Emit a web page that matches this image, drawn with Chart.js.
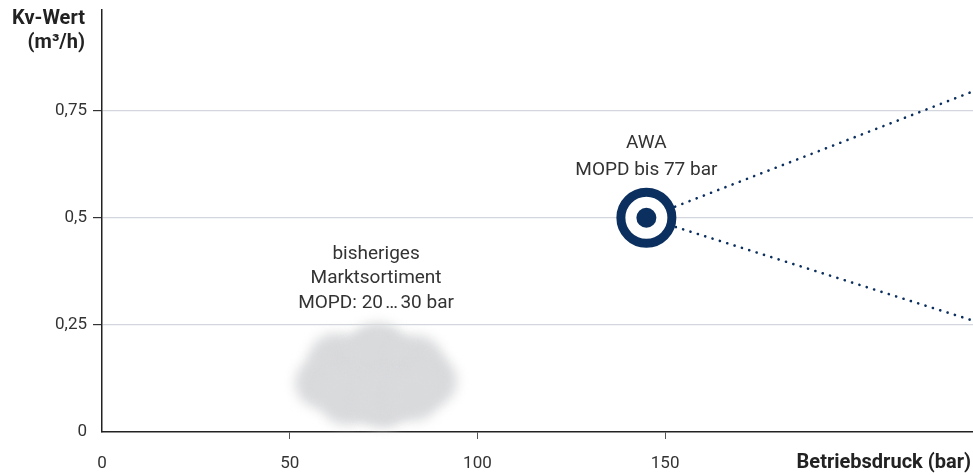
<!DOCTYPE html>
<html>
<head>
<meta charset="utf-8">
<script src="https://cdn.jsdelivr.net/npm/chart.js@4/dist/chart.umd.min.js"></script>
<style>
  html, body { margin: 0; padding: 0; background: #fff; }
  #wrap { width: 973px; height: 475px; }
</style>
</head>
<body>
<div id="wrap"><canvas id="kvChart"></canvas></div>
<script>
// Chart data
const xTicks = [0, 50, 100, 150];
const yTicks = [0, 0.25, 0.5, 0.75];
const awaPoint = [{ x: 145, y: 0.5 }];
const upperLine = [{ x: 145, y: 0.5 }, { x: 232, y: 0.795 }];
const lowerLine = [{ x: 145, y: 0.5 }, { x: 232, y: 0.26 }];
const cloudCenter = { x: 73, y: 0.133 };
const cloudLabel = ['bisheriges', 'Marktsortiment', 'MOPD: 20\u202F…\u202F30 bar'];
const cloudLabelPos = { x: 73, y: 0.415 };
const awaLabel = ['AWA', 'MOPD bis 77 bar'];
const awaLabelPos = { x: 145, y: 0.673 };

const navy = '#0b2f5e';
const textColor = '#333333';
const fontFamily = 'Roboto, "Liberation Sans", sans-serif';

// Cloud + annotations, drawn through the scales
const decoPlugin = {
  id: 'deco',
  beforeDatasetsDraw(chart) {
    const { ctx, scales } = chart;
    const cx = scales.x.getPixelForValue(cloudCenter.x);
    const cy = scales.y.getPixelForValue(cloudCenter.y);
    // lobes of the cloud: [dx, dy, r]
    const blobs = [
      [0, 2, 46], [-40, -14, 28], [2, -20, 32], [40, -12, 28],
      [56, 6, 25], [-56, 8, 25], [-30, 22, 28], [8, 24, 28], [38, 20, 26]
    ];
    ctx.save();
    ctx.filter = 'blur(6px)';
    ctx.fillStyle = '#d9dadc';
    blobs.forEach(([dx, dy, r]) => {
      ctx.beginPath();
      ctx.arc(cx + dx, cy + dy, r, 0, Math.PI * 2);
      ctx.fill();
    });
    ctx.restore();
  },
  afterDraw(chart) {
    const { ctx, scales, chartArea } = chart;
    ctx.save();
    ctx.fillStyle = textColor;
    ctx.textBaseline = 'middle';
    ctx.textAlign = 'center';
    ctx.font = '19px ' + fontFamily;
    const lx = scales.x.getPixelForValue(cloudLabelPos.x);
    const ly = scales.y.getPixelForValue(cloudLabelPos.y);
    cloudLabel.forEach((t, i) => ctx.fillText(t, lx, ly + i * 24.5));
    const ax = scales.x.getPixelForValue(awaLabelPos.x);
    const ay = scales.y.getPixelForValue(awaLabelPos.y);
    awaLabel.forEach((t, i) => ctx.fillText(t, ax, ay + i * 27));

    // axis titles
    ctx.fillStyle = '#222';
    ctx.font = 'bold 20px ' + fontFamily;
    ctx.textAlign = 'right';
    ctx.fillText('Kv-Wert', chartArea.left - 17, 19);
    ctx.fillText('(m³/h)', chartArea.left - 17, 43);
    ctx.fillText('Betriebsdruck (bar)', chartArea.right - 2, 463);
    ctx.restore();
  }
};

function noPad(s) {
  s.paddingTop = 0; s.paddingBottom = 0; s.paddingLeft = 0; s.paddingRight = 0;
}

new Chart(document.getElementById('kvChart'), {
  type: 'scatter',
  data: {
    datasets: [
      {
        data: upperLine, showLine: true, pointRadius: 0, order: 3,
        borderColor: navy, borderWidth: 2.6, borderDash: [0.1, 7.6], borderCapStyle: 'round'
      },
      {
        data: lowerLine, showLine: true, pointRadius: 0, order: 3,
        borderColor: navy, borderWidth: 2.6, borderDash: [0.1, 7.6], borderCapStyle: 'round'
      },
      {
        data: awaPoint, pointRadius: 25.5, pointHoverRadius: 25.5, order: 2,
        backgroundColor: '#ffffff', borderColor: navy, borderWidth: 9, pointHoverBorderWidth: 9
      },
      {
        data: awaPoint, pointRadius: 10, pointHoverRadius: 10, order: 1,
        backgroundColor: navy, borderColor: navy, borderWidth: 0
      }
    ]
  },
  options: {
    responsive: true,
    maintainAspectRatio: false,
    animation: false,
    events: [],
    layout: { autoPadding: false, padding: { top: 10, right: 0, left: 0, bottom: 0 } },
    plugins: { legend: { display: false }, tooltip: { enabled: false } },
    scales: {
      x: {
        type: 'linear', min: 0, max: 232,
        afterFit(s) { s.height = 43; noPad(s); },
        border: { color: '#222', width: 1.5 },
        grid: {
          drawOnChartArea: false, tickLength: 7,
          tickColor: ctx => ctx.tick && ctx.tick.value > 0 && ctx.tick.value <= 150 ? '#555' : 'rgba(0,0,0,0)'
        },
        ticks: {
          stepSize: 50, includeBounds: false, padding: 15,
          color: textColor, font: { family: fontFamily, size: 17 },
          callback: v => xTicks.includes(v) ? String(v) : ''
        }
      },
      y: {
        type: 'linear', min: 0, max: 0.985,
        afterFit(s) { s.width = 102; noPad(s); },
        border: { color: '#222', width: 1.5 },
        grid: {
          color: ctx => ctx.tick && ctx.tick.value === 0 ? 'rgba(0,0,0,0)' : '#d3d7dd',
          lineWidth: 1.2,
          tickLength: 9,
          tickColor: ctx => ctx.tick && ctx.tick.value === 0 ? 'rgba(0,0,0,0)' : '#333'
        },
        ticks: {
          stepSize: 0.25, includeBounds: false, padding: 6,
          color: textColor, font: { family: fontFamily, size: 17 },
          callback: v => yTicks.includes(v) ? String(v).replace('.', ',') : ''
        }
      }
    }
  },
  plugins: [decoPlugin]
});
</script>
</body>
</html>
